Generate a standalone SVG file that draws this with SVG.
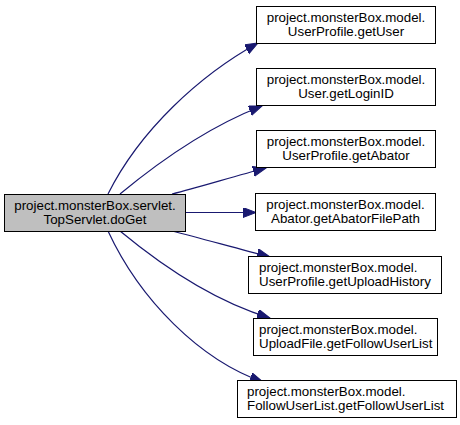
<svg xmlns="http://www.w3.org/2000/svg" width="460" height="425" viewBox="0 0 460 425">
<defs>
<style>
.n rect{fill:#ffffff;stroke:#000000;stroke-width:1}
.n.src rect{fill:#bfbfbf}
.n text{font-family:"Liberation Sans",Helvetica,Arial,sans-serif;font-size:13.33px;fill:#000000}
.c{text-anchor:middle}
.e path{fill:none;stroke:#191970;stroke-width:1.2}
</style>
<marker id="ah" markerUnits="userSpaceOnUse" markerWidth="14" markerHeight="12" refX="13" refY="5" orient="auto">
<path d="M0,0 L13,5 L0,10 z" fill="#191970" stroke="#191970" stroke-width="1"/>
</marker>
</defs>
<rect width="460" height="425" fill="#ffffff"/>
<g id="edges" class="e">
<path d="M108,194 C140,130 200,75 258,43" marker-end="url(#ah)"/>
<path d="M120,194 C155,165 205,128 262,106" marker-end="url(#ah)"/>
<path d="M172,194 C200,187 235,176 266,168" marker-end="url(#ah)"/>
<path d="M186,212.5 L256,212.5" marker-end="url(#ah)"/>
<path d="M172,231 C200,238 235,248 270,257" marker-end="url(#ah)"/>
<path d="M120,231 C155,260 210,300 270,318" marker-end="url(#ah)"/>
<path d="M108,231 C140,300 200,360 263,382" marker-end="url(#ah)"/>
</g>
<g id="node_doGet" class="n src">
<rect x="4.5" y="194.5" width="181" height="37"/>
<text class="c" x="95" y="210">project.monsterBox.servlet.</text>
<text class="c" x="95" y="224">TopServlet.doGet</text>
</g>
<g id="node_getUser" class="n">
<rect x="256.5" y="6.5" width="179" height="37"/>
<text class="c" x="346" y="22">project.monsterBox.model.</text>
<text class="c" x="346" y="36">UserProfile.getUser</text>
</g>
<g id="node_getLoginID" class="n">
<rect x="256.5" y="68.5" width="179" height="37"/>
<text class="c" x="346" y="84">project.monsterBox.model.</text>
<text class="c" x="346" y="98">User.getLoginID</text>
</g>
<g id="node_getAbator" class="n">
<rect x="256.5" y="130.5" width="179" height="37"/>
<text class="c" x="346" y="146">project.monsterBox.model.</text>
<text class="c" x="346" y="160">UserProfile.getAbator</text>
</g>
<g id="node_getAbatorFilePath" class="n">
<rect x="255.5" y="193.5" width="180" height="37"/>
<text class="c" x="345.5" y="209">project.monsterBox.model.</text>
<text class="c" x="345.5" y="223">Abator.getAbatorFilePath</text>
</g>
<g id="node_getUploadHistory" class="n">
<rect x="248.5" y="256.5" width="193" height="37"/>
<text x="259" y="272">project.monsterBox.model.</text>
<text x="259" y="286">UserProfile.getUploadHistory</text>
</g>
<g id="node_UploadFile_getFollowUserList" class="n">
<rect x="253.5" y="318.5" width="184" height="37"/>
<text x="259" y="334">project.monsterBox.model.</text>
<text x="259" y="348">UploadFile.getFollowUserList</text>
</g>
<g id="node_FollowUserList_getFollowUserList" class="n">
<rect x="237.5" y="380.5" width="219" height="37"/>
<text x="247" y="396">project.monsterBox.model.</text>
<text x="247" y="410">FollowUserList.getFollowUserList</text>
</g>
</svg>
